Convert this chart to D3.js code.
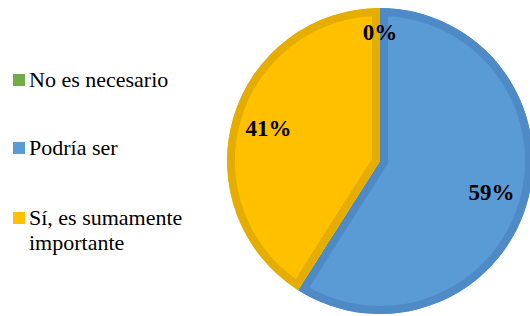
<!DOCTYPE html>
<html><head><meta charset="utf-8"><script src="https://cdn.jsdelivr.net/npm/d3@7"></script>
<style>
  body { margin: 0; }
  #chart { position: relative; width: 530px; height: 316px; }
  #chart svg { position: absolute; left: 0; top: 0; }
  .txt { position: absolute; font-family: "Liberation Serif", "Times New Roman", Times, serif; color: #000; white-space: nowrap; line-height: 25px; }
</style>
</head>
<body>
<div id="chart"></div>
<script>
// pie chart data
var categories = ["No es necesario", "Podría ser", "Sí, es sumamente importante"];
var legendLines = [["No es necesario"], ["Podría ser"], ["Sí, es sumamente", "importante"]];
var values = [0, 59, 41];
var labels = ["0%", "59%", "41%"];
var fills = ["#70ad47", "#5b9bd5", "#ffc000"];
var borders = ["#5f9a3b", "#4e8bc6", "#e5ad00"];

var width = 530,
    height = 316;
var cx = 380, cy = 161, radius = 153;

var chart = d3.select('#chart');
var svg = chart.append('svg')
    .attr('width', width)
    .attr('height', height);

var pie = d3.pie().sort(null).value(function(d) { return d; });
var arcs = pie(values);
var arc = d3.arc().innerRadius(0).outerRadius(radius);
var labelArc = d3.arc().innerRadius(116).outerRadius(116);
var zeroArc = d3.arc().innerRadius(128).outerRadius(128);

var defs = svg.append('defs');
arcs.forEach(function(d, i) {
    defs.append('clipPath').attr('id', 'clip' + i)
        .append('path').attr('d', arc(d));
});

var slices = svg.append('g').attr('transform', 'translate(' + cx + ',' + cy + ')');
slices.selectAll('path')
    .data(arcs)
    .enter().append('path')
    .attr('d', arc)
    .attr('clip-path', function(d, i) { return 'url(#clip' + i + ')'; })
    .attr('fill', function(d, i) { return fills[i]; })
    .attr('stroke', function(d, i) { return borders[i]; })
    .attr('stroke-width', function(d) { return d.value > 0 ? 16 : 0; });

// legend squares
var legendY = [80, 148, 218];
svg.selectAll('rect.key')
    .data(categories)
    .enter().append('rect')
    .attr('class', 'key')
    .attr('x', 13)
    .attr('y', function(d, i) { return legendY[i] - 6; })
    .attr('width', 12)
    .attr('height', 12)
    .attr('fill', function(d, i) { return fills[i]; });

// percentage labels as html text
chart.selectAll('div.lbl')
    .data(arcs)
    .enter().append('div')
    .attr('class', 'txt lbl')
    .style('font-size', '23px')
    .style('font-weight', 'bold')
    .style('left', function(d) { return (cx + (d.value > 0 ? labelArc : zeroArc).centroid(d)[0] - 30) + 'px'; })
    .style('top', function(d) { return (cy + (d.value > 0 ? labelArc : zeroArc).centroid(d)[1] - 13) + 'px'; })
    .style('width', '60px')
    .style('text-align', 'center')
    .text(function(d, i) { return labels[i]; });

// legend text
chart.selectAll('div.leg')
    .data(categories)
    .enter().append('div')
    .attr('class', 'txt leg')
    .style('font-size', '22px')
    .style('left', '29px')
    .style('top', function(d, i) { return (legendY[i] - 13) + 'px'; })
    .html(function(d, i) { return legendLines[i].join('<br>'); });
</script></body></html>
